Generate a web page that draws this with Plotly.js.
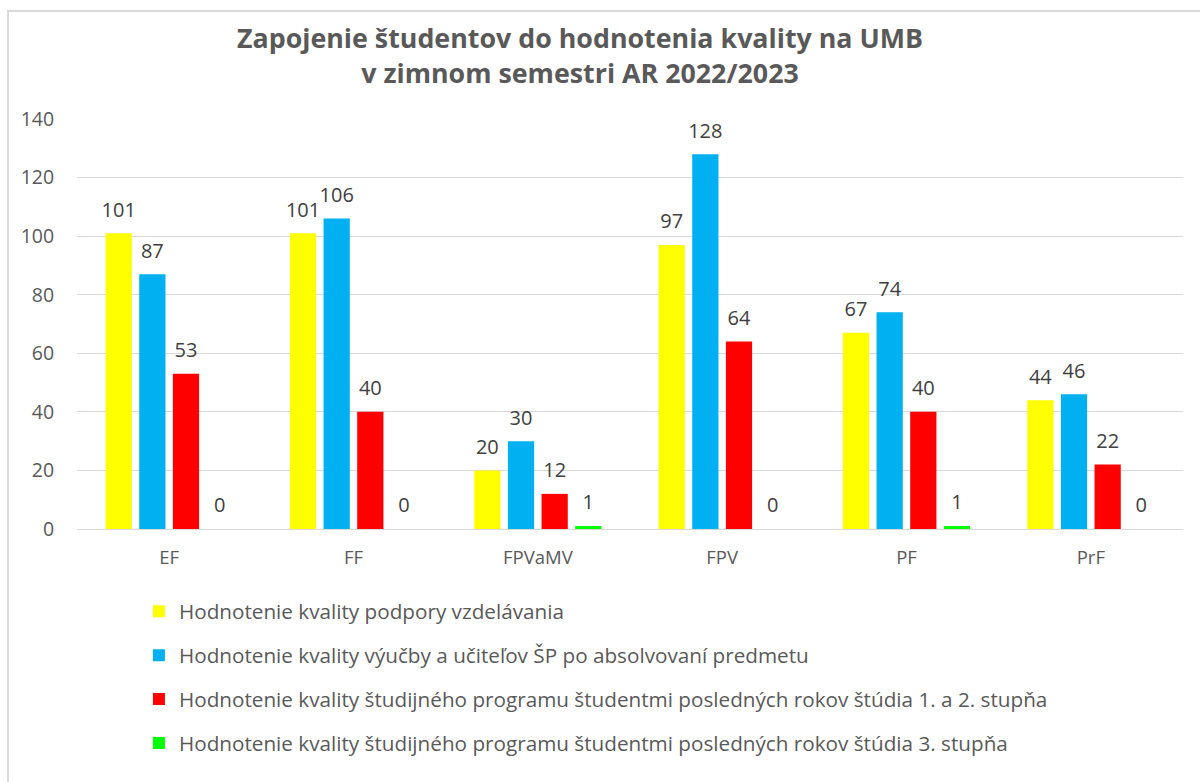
<!DOCTYPE html>
<html><head><meta charset="utf-8">
<script src="https://cdn.plot.ly/plotly-3.0.1.min.js"></script>
<style>
html,body{margin:0;padding:0;background:#fff;overflow:hidden;}
#wrap{position:relative;width:1200px;height:782px;overflow:hidden;}
#chart{position:absolute;left:0;top:0;width:1200px;height:782px;}
#frame{position:absolute;left:7px;top:10px;width:1300px;height:900px;border:2px solid #d9d9d9;pointer-events:none;}
</style></head>
<body>
<div id="wrap"><div id="chart"></div><div id="frame"></div></div>
<script>
const categories = ["EF", "FF", "FPVaMV", "FPV", "PF", "PrF"];
const seriesNames = [
  "Hodnotenie kvality podpory vzdelávania",
  "Hodnotenie kvality výučby a učiteľov ŠP po absolvovaní predmetu",
  "Hodnotenie kvality študijného programu študentmi posledných rokov štúdia 1. a 2. stupňa",
  "Hodnotenie kvality študijného programu študentmi posledných rokov štúdia 3. stupňa"
];
const podpora = [101, 101, 20, 97, 67, 44];
const vyucba = [87, 106, 30, 128, 74, 46];
const program12 = [53, 40, 12, 64, 40, 22];
const program3 = [0, 0, 1, 0, 1, 0];
const colors = ["#FFFF00", "#00B0F0", "#FF0000", "#00FF00"];
const yTicks = [0, 20, 40, 60, 80, 100, 120, 140];
const titleText = "<b>Zapojenie študentov do hodnotenia kvality na UMB<br>v zimnom semestri AR 2022/2023</b>";

const font = "'Open Sans', sans-serif";
const values = [podpora, vyucba, program12, program3];
const barTraces = values.map((v, i) => ({
  type: "bar",
  name: seriesNames[i],
  x: categories,
  y: v,
  marker: {color: colors[i]},
  legendgroup: "g" + i,
  hoverinfo: "x+y+name"
}));
const labelTraces = values.map((v, i) => ({
  type: "scatter",
  mode: "markers+text",
  x: categories,
  y: v,
  text: v.map(String),
  textposition: "top center",
  textfont: {family: font, size: 20, color: "#404040"},
  marker: {size: 17, color: "rgba(0,0,0,0)"},
  offsetgroup: "s" + i,
  alignmentgroup: "labels",
  showlegend: false,
  cliponaxis: false,
  hoverinfo: "skip"
}));

const layout = {
  width: 1200, height: 782,
  paper_bgcolor: "#ffffff", plot_bgcolor: "#ffffff",
  margin: {l: 77, r: 17, t: 119, b: 253},
  annotations: [{
    text: titleText,
    xref: "paper", yref: "paper",
    x: (580 - 77) / 1106, y: (529 - 55) / 410,
    xanchor: "center", yanchor: "middle",
    showarrow: false,
    font: {family: font, size: 26.8, color: "#595959"}
  }],
  barmode: "group",
  bargap: 0.27,
  bargroupgap: 0.22,
  scattermode: "group",
  scattergap: 0.27,
  showlegend: true,
  legend: {
    orientation: "v", x: 0.056, xanchor: "left", xref: "paper",
    y: -0.152, yanchor: "top",
    font: {family: font, size: 20.7, color: "#595959"},
    tracegroupgap: 14,
    itemclick: false
  },
  xaxis: {
    type: "category",
    tickfont: {family: font, size: 18.5, color: "#595959"},
    showgrid: false, showline: true, linecolor: "#d9d9d9", linewidth: 1,
    ticks: "outside", ticklen: 12, tickcolor: "rgba(0,0,0,0)"
  },
  yaxis: {
    range: [0, 140],
    tickvals: yTicks,
    ticktext: yTicks.map(String),
    tickfont: {family: font, size: 19.5, color: "#595959"},
    showgrid: true, gridcolor: "#d9d9d9", gridwidth: 1,
    zeroline: true, zerolinecolor: "#d9d9d9",
    ticks: "outside", ticklen: 18, tickcolor: "rgba(0,0,0,0)",
    fixedrange: true
  }
};
Plotly.newPlot("chart", barTraces.concat(labelTraces), layout, {displayModeBar: false, staticPlot: true});
</script>
</body></html>
